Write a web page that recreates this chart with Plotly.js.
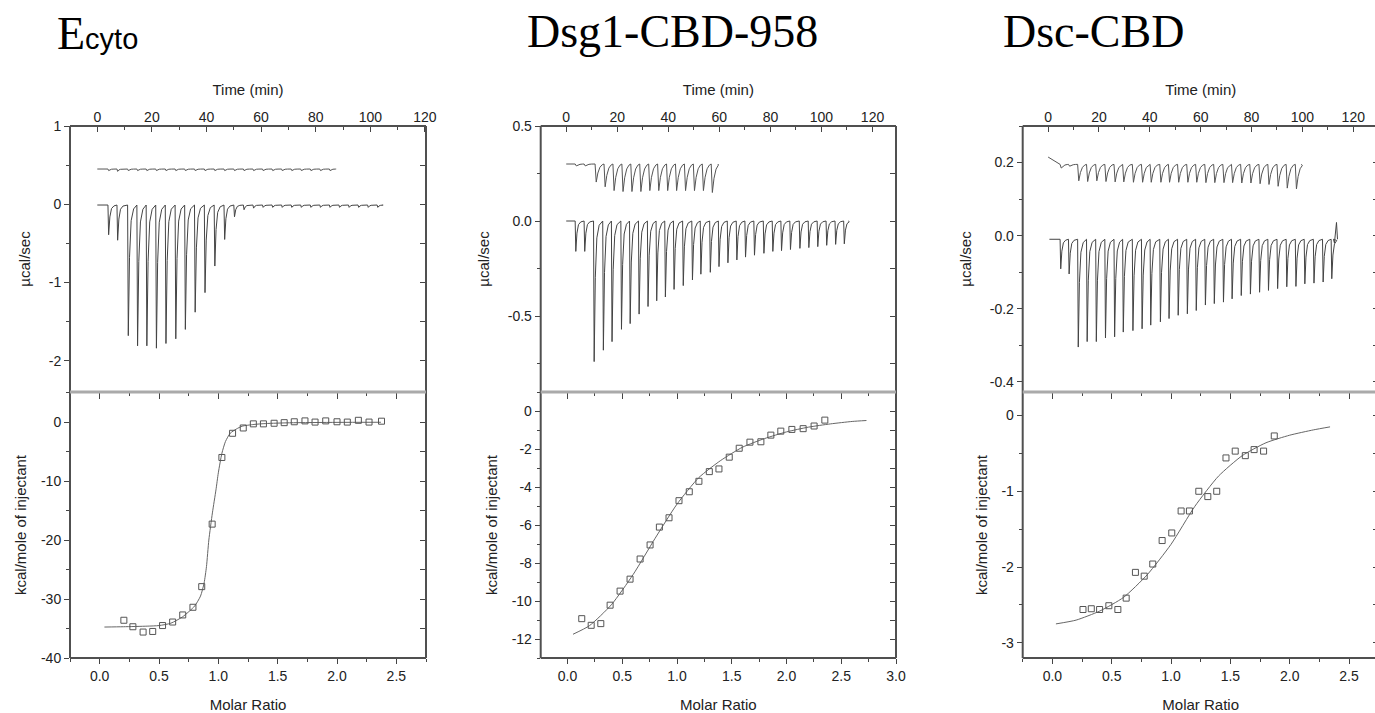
<!DOCTYPE html>
<html><head><meta charset="utf-8">
<script src="https://cdn.plot.ly/plotly-3.0.1.min.js"></script>
<style>html,body{margin:0;padding:0;overflow:hidden;background:#fff}#chart{width:1400px;height:713px}</style>
</head><body><div id="chart"></div>
<script>
// ---------- panel titles ----------
const panelTitles = ['E<span style="font-family:\'Liberation Sans\';font-size:29px">cyto</span>', 'Dsg1-CBD-958', 'Dsc-CBD'];

// ---------- raw thermograms (time in min, peak values in µcal/sec) ----------
const ecytoInjTimes = [3.9, 7.2, 11.1, 14.5, 17.9, 21.4, 24.9, 28.5, 32.0, 35.6, 39.2, 42.8, 46.4, 50.0, 53.5, 57.0, 60.5, 64.0, 67.5, 71.0, 74.5, 78.0, 81.5, 85.0, 88.5, 92.0, 95.5, 99.0, 102.5];
const ecytoPeaks = [-0.39, -0.46, -1.68, -1.81, -1.81, -1.84, -1.78, -1.72, -1.60, -1.38, -1.13, -0.79, -0.45, -0.16, -0.07, -0.05, -0.04, -0.04, -0.04, -0.04, -0.04, -0.04, -0.04, -0.04, -0.04, -0.04, -0.04, -0.04, -0.04];
const ecytoRefTimes = [3.9, 7.2, 11.1, 14.5, 17.9, 21.4, 24.9, 28.5, 32.0, 35.6, 39.2, 42.8, 46.4, 50.0, 53.5, 57.0, 60.5, 64.0, 67.5, 71.0, 74.5, 78.0, 81.5, 85.0];
const ecytoRefPeaks = [0.43, 0.42, 0.43, 0.43, 0.43, 0.43, 0.43, 0.43, 0.43, 0.43, 0.43, 0.43, 0.43, 0.43, 0.43, 0.43, 0.43, 0.43, 0.43, 0.43, 0.43, 0.43, 0.43, 0.43];

const dsgInjTimes = [3.5, 7.0, 10.7, 14.3, 17.7, 21.4, 24.8, 28.3, 31.8, 35.2, 38.6, 42.0, 45.6, 49.2, 52.5, 56.2, 59.6, 63.1, 66.6, 70.0, 73.5, 77.2, 80.7, 84.1, 87.6, 91.3, 94.8, 98.3, 101.8, 105.3, 108.7];
const dsgPeaks = [-0.16, -0.16, -0.74, -0.68, -0.635, -0.57, -0.54, -0.49, -0.45, -0.42, -0.40, -0.36, -0.34, -0.31, -0.28, -0.27, -0.24, -0.22, -0.205, -0.19, -0.18, -0.17, -0.16, -0.156, -0.15, -0.144, -0.14, -0.135, -0.128, -0.123, -0.12];
const dsgRefTimes = [3.5, 7.0, 11.3, 14.8, 18.3, 21.8, 25.3, 28.8, 32.3, 35.8, 39.3, 42.8, 46.3, 49.8, 53.3, 56.8];
const dsgRefPeaks = [0.29, 0.29, 0.205, 0.18, 0.16, 0.155, 0.155, 0.155, 0.16, 0.16, 0.16, 0.16, 0.16, 0.16, 0.16, 0.15];

const dscInjTimes = [4.7, 8.0, 11.6, 15.1, 18.7, 22.3, 25.9, 29.3, 33.1, 36.7, 40.1, 43.9, 47.3, 50.9, 54.5, 58.0, 61.6, 65.1, 68.7, 72.1, 75.7, 79.3, 82.9, 86.4, 90.0, 93.6, 97.2, 100.7, 104.3, 107.9, 111.3];
const dscPeaks = [-0.091, -0.105, -0.305, -0.29, -0.29, -0.28, -0.277, -0.264, -0.26, -0.255, -0.245, -0.236, -0.227, -0.218, -0.214, -0.205, -0.19, -0.186, -0.182, -0.173, -0.164, -0.16, -0.155, -0.15, -0.145, -0.14, -0.139, -0.132, -0.13, -0.127, -0.118];
const dscTailTimes = [112.6, 113.4, 113.8];
const dscTailValues = [-0.02, 0.036, -0.01];
const dscRefTimes = [4.7, 8.0, 11.6, 15.1, 18.7, 22.3, 25.9, 29.3, 33.1, 36.7, 40.1, 43.9, 47.3, 50.9, 54.5, 58.0, 61.6, 65.1, 68.7, 72.1, 75.7, 79.3, 82.9, 86.4, 90.0, 93.6, 97.2];
const dscRefPeaks = [0.185, 0.19, 0.15, 0.148, 0.15, 0.148, 0.147, 0.147, 0.146, 0.146, 0.146, 0.146, 0.146, 0.146, 0.146, 0.146, 0.145, 0.145, 0.145, 0.145, 0.144, 0.144, 0.142, 0.14, 0.135, 0.13, 0.128];
const dscRefStart = 0.215;

// ---------- integrated heats (molar ratio, kcal/mole of injectant) ----------
const ecytoRatio = [0.204, 0.28, 0.366, 0.447, 0.53, 0.615, 0.70, 0.786, 0.86, 0.948, 1.03, 1.12, 1.21, 1.295, 1.38, 1.47, 1.555, 1.64, 1.73, 1.815, 1.905, 2.0, 2.087, 2.18, 2.27, 2.375];
const ecytoHeat = [-33.6, -34.7, -35.6, -35.5, -34.5, -33.9, -32.7, -31.4, -27.9, -17.3, -6.0, -1.9, -1.0, -0.3, -0.3, -0.2, -0.1, 0.05, 0.2, 0.0, 0.2, 0.05, 0.0, 0.3, 0.0, 0.15];
const ecytoFitRatio = [0.04, 0.2, 0.4, 0.5, 0.6, 0.7, 0.8, 0.85, 0.88, 0.9, 0.92, 0.95, 0.98, 1.0, 1.03, 1.06, 1.1, 1.15, 1.2, 1.3, 1.4, 1.6, 2.0, 2.37];
const ecytoFitHeat = [-34.75, -34.7, -34.6, -34.5, -34.1, -33.0, -31.2, -29.5, -27.3, -24.5, -20.0, -15.4, -11.5, -8.6, -5.3, -3.3, -1.9, -1.2, -0.7, -0.4, -0.25, -0.12, -0.05, -0.03];

const dsgRatio = [0.13, 0.216, 0.304, 0.389, 0.48, 0.571, 0.663, 0.754, 0.839, 0.927, 1.018, 1.112, 1.2, 1.295, 1.383, 1.477, 1.568, 1.666, 1.766, 1.857, 1.948, 2.049, 2.152, 2.252, 2.35];
const dsgHeat = [-10.93, -11.28, -11.19, -10.22, -9.48, -8.85, -7.79, -7.05, -6.11, -5.62, -4.72, -4.25, -3.7, -3.19, -3.05, -2.43, -1.96, -1.64, -1.62, -1.27, -1.06, -0.97, -0.93, -0.79, -0.48];
const dsgFitRatio = [0.05, 0.2, 0.4, 0.6, 0.8, 1.0, 1.2, 1.4, 1.6, 1.8, 2.0, 2.2, 2.4, 2.6, 2.73];
const dsgFitHeat = [-11.75, -11.3, -10.2, -8.6, -6.7, -4.9, -3.5, -2.6, -1.9, -1.45, -1.1, -0.85, -0.68, -0.55, -0.5];

const dscRatio = [0.258, 0.328, 0.398, 0.476, 0.552, 0.622, 0.70, 0.774, 0.846, 0.925, 1.006, 1.085, 1.155, 1.234, 1.31, 1.385, 1.463, 1.541, 1.626, 1.70, 1.78, 1.87];
const dscHeat = [-2.56, -2.55, -2.56, -2.51, -2.56, -2.41, -2.07, -2.12, -1.96, -1.65, -1.55, -1.26, -1.26, -1.0, -1.07, -1.0, -0.56, -0.47, -0.53, -0.45, -0.47, -0.27];
const dscFitRatio = [0.03, 0.2, 0.4, 0.6, 0.8, 1.0, 1.2, 1.4, 1.6, 1.8, 2.0, 2.2, 2.34];
const dscFitHeat = [-2.75, -2.7, -2.58, -2.4, -2.1, -1.7, -1.2, -0.8, -0.53, -0.36, -0.26, -0.19, -0.15];

// ---------- tick labels ----------
const timeTicks = [0, 20, 40, 60, 80, 100, 120];
const ratioTicks = [0, 0.5, 1, 1.5, 2, 2.5, 3];
const ratioLabels = ['0.0', '0.5', '1.0', '1.5', '2.0', '2.5', '3.0'];
const ecytoRawTicks = [1, 0, -1, -2];
const ecytoRawLabels = ['1', '0', '-1', '-2'];
const dsgRawTicks = [0.5, 0, -0.5];
const dsgRawLabels = ['0.5', '0.0', '-0.5'];
const dscRawTicks = [0.2, 0, -0.2, -0.4];
const dscRawLabels = ['0.2', '0.0', '-0.2', '-0.4'];
const ecytoHeatTicks = [0, -10, -20, -30, -40];
const ecytoHeatLabels = ['0', '-10', '-20', '-30', '-40'];
const dsgHeatTicks = [0, -2, -4, -6, -8, -10, -12];
const dsgHeatLabels = ['0', '-2', '-4', '-6', '-8', '-10', '-12'];
const dscHeatTicks = [0, -1, -2, -3];
const dscHeatLabels = ['0', '-1', '-2', '-3'];

// ---------- build a thermogram line from injection times and peak values ----------
function thermo(times, peaks, base, tStart, tEnd, slow, startVal) {
  const offs = slow ? [0.45, 1.1, 1.9, 2.8] : [0.25, 0.7, 1.3, 2.2];
  const fr = slow ? [1, 0.5, 0.18, 0.04] : [1, 0.4, 0.12, 0.03];
  const x = [tStart], y = [startVal === undefined ? base : startVal];
  times.forEach((t, i) => {
    x.push(t); y.push(base);
    for (let k = 0; k < offs.length; k++) { x.push(t + offs[k]); y.push(base + (peaks[i] - base) * fr[k]); }
  });
  x.push(tEnd); y.push(base);
  return {x, y};
}

const dscMain = thermo(dscInjTimes, dscPeaks, -0.01, 0.5, 112.2, false);
dscMain.x.push(...dscTailTimes); dscMain.y.push(...dscTailValues);

const panels = [
  {main: thermo(ecytoInjTimes, ecytoPeaks, -0.01, 0, 104.5, false), ref: thermo(ecytoRefTimes, ecytoRefPeaks, 0.45, 0, 87.5, false),
   ratio: ecytoRatio, heat: ecytoHeat, fitR: ecytoFitRatio, fitH: ecytoFitHeat,
   timeRange: [-10, 120.4], rawRange: [-2.4, 1.0], rawTicks: ecytoRawTicks, rawLabels: ecytoRawLabels, rawMinor: 0.5,
   ratioRange: [-0.25, 2.75], heatRange: [-40, 5.1], heatTicks: ecytoHeatTicks, heatLabels: ecytoHeatLabels, heatMinor: 5,
   dom: [70, 426]},
  {main: thermo(dsgInjTimes, dsgPeaks, 0.0, 0, 110.5, false), ref: thermo(dsgRefTimes, dsgRefPeaks, 0.30, 0, 59.5, true),
   ratio: dsgRatio, heat: dsgHeat, fitR: dsgFitRatio, fitH: dsgFitHeat,
   timeRange: [-10, 129.2], rawRange: [-0.9, 0.5], rawTicks: dsgRawTicks, rawLabels: dsgRawLabels, rawMinor: 0.25,
   ratioRange: [-0.245, 3.0], heatRange: [-13, 1.0], heatTicks: dsgHeatTicks, heatLabels: dsgHeatLabels, heatMinor: 1,
   dom: [540.7, 896]},
  {main: dscMain, ref: thermo(dscRefTimes, dscRefPeaks, 0.195, 0, 99.5, true, dscRefStart),
   ratio: dscRatio, heat: dscHeat, fitR: dscFitRatio, fitH: dscFitHeat,
   timeRange: [-10, 130], rawRange: [-0.428, 0.3], rawTicks: dscRawTicks, rawLabels: dscRawLabels, rawMinor: 0.1,
   ratioRange: [-0.25, 2.75], heatRange: [-3.2, 0.31], heatTicks: dscHeatTicks, heatLabels: dscHeatLabels, heatMinor: 0.5,
   dom: [1022.7, 1378.7]}
];

const W = 1400, H = 713;
const TOP = 126, MID = 392, BOT = 658;
const yTopDom = [1 - MID / H, 1 - TOP / H];
const yBotDom = [1 - BOT / H, 1 - MID / H];
const AX = '#444', FRAME = '#505050', TXT = '#222';
const tickFont = {size: 14, color: TXT, family: 'Liberation Sans, Arial, sans-serif'};
const titleFont = {size: 15, color: TXT, family: 'Liberation Sans, Arial, sans-serif'};

const data = [];
const layout = {
  width: W, height: H, margin: {l: 0, r: 0, t: 0, b: 0},
  paper_bgcolor: '#fff', plot_bgcolor: 'rgba(0,0,0,0)', showlegend: false, hovermode: false,
  font: {family: 'Liberation Sans, Arial, sans-serif', color: TXT},
  annotations: [], shapes: []
};
const base = {showgrid: false, zeroline: false, showline: false, tickcolor: AX, tickwidth: 1, tickfont: tickFont};

panels.forEach((p, i) => {
  const xT = 3 * i + 1, xB = 3 * i + 2, xBT = 3 * i + 3;
  const yT = 4 * i + 1, yTR = 4 * i + 2, yB = 4 * i + 3, yBR = 4 * i + 4;
  const xn = n => 'xaxis' + (n === 1 ? '' : n), yn = n => 'yaxis' + (n === 1 ? '' : n);
  const xr = n => 'x' + (n === 1 ? '' : n), yr = n => 'y' + (n === 1 ? '' : n);
  const dom = [p.dom[0] / W, p.dom[1] / W];

  // top subplot
  layout[xn(xT)] = Object.assign({}, base, {domain: dom, anchor: yr(yT), side: 'top', range: p.timeRange,
    tickmode: 'array', tickvals: timeTicks, ticktext: timeTicks.map(String), ticks: 'inside', ticklen: 6,
    minor: {tickmode: 'linear', tick0: 0, dtick: 10, ticks: 'inside', ticklen: 4, tickcolor: AX},
    title: {text: 'Time (min)', font: titleFont, standoff: 9}});
  layout[yn(yT)] = Object.assign({}, base, {domain: yTopDom, anchor: xr(xT), side: 'left', range: p.rawRange,
    tickmode: 'array', tickvals: p.rawTicks, ticktext: p.rawLabels, ticks: 'outside', ticklen: 5,
    minor: {tickmode: 'linear', tick0: 0, dtick: p.rawMinor, ticks: 'outside', ticklen: 3, tickcolor: AX},
    title: {text: 'µcal/sec', font: titleFont, standoff: 14}});
  layout[yn(yTR)] = Object.assign({}, base, {overlaying: yr(yT), anchor: xr(xT), side: 'right', range: p.rawRange,
    tickmode: 'linear', tick0: 0, dtick: p.rawMinor, ticks: 'inside', ticklen: 6, showticklabels: false});

  // bottom subplot
  layout[xn(xB)] = Object.assign({}, base, {domain: dom, anchor: yr(yB), side: 'bottom', range: p.ratioRange,
    tickmode: 'array', tickvals: ratioTicks, ticktext: ratioLabels, ticks: 'outside', ticklen: 5,
    minor: {tickmode: 'linear', tick0: 0, dtick: 0.25, ticks: 'outside', ticklen: 3, tickcolor: AX},
    title: {text: 'Molar Ratio', font: titleFont, standoff: 16}});
  layout[xn(xBT)] = Object.assign({}, base, {overlaying: xr(xB), anchor: yr(yB), side: 'top', range: p.ratioRange,
    tickmode: 'linear', tick0: 0, dtick: 0.5, ticks: 'inside', ticklen: 7, showticklabels: false,
    minor: {tickmode: 'linear', tick0: 0, dtick: 0.25, ticks: 'inside', ticklen: 4, tickcolor: AX}});
  layout[yn(yB)] = Object.assign({}, base, {domain: yBotDom, anchor: xr(xB), side: 'left', range: p.heatRange,
    tickmode: 'array', tickvals: p.heatTicks, ticktext: p.heatLabels, ticks: 'outside', ticklen: 5,
    minor: {tickmode: 'linear', tick0: 0, dtick: p.heatMinor, ticks: 'outside', ticklen: 3, tickcolor: AX},
    title: {text: 'kcal/mole of injectant', font: titleFont, standoff: 10}});
  layout[yn(yBR)] = Object.assign({}, base, {overlaying: yr(yB), anchor: xr(xB), side: 'right', range: p.heatRange,
    tickmode: 'linear', tick0: 0, dtick: p.heatMinor, ticks: 'inside', ticklen: 6, showticklabels: false});

  // frame lines (paper coordinates)
  const L = dom[0], R = dom[1];
  const yt = 1 - TOP / H, ym = 1 - MID / H, yb = 1 - BOT / H;
  const ln = (x0, y0, x1, y1, c, w) => layout.shapes.push({type: 'line', xref: 'paper', yref: 'paper', x0: x0, y0: y0, x1: x1, y1: y1, line: {color: c, width: w}, layer: 'above'});
  ln(L, yt, R, yt, FRAME, 2);
  ln(L, yb, R, yb, FRAME, 2);
  ln(L, yt, L, yb, FRAME, 2);
  ln(R, yt, R, yb, FRAME, 2);
  ln(L, ym, R, ym, '#aaa', 3);

  // traces
  data.push({type: 'scatter', mode: 'lines', x: p.ref.x, y: p.ref.y, xaxis: xr(xT), yaxis: yr(yT),
    line: {color: '#555', width: 1}, hoverinfo: 'skip'});
  data.push({type: 'scatter', mode: 'lines', x: p.main.x, y: p.main.y, xaxis: xr(xT), yaxis: yr(yT),
    line: {color: '#444', width: 1}, hoverinfo: 'skip'});
  data.push({type: 'scatter', mode: 'lines', x: [], y: [], xaxis: xr(xT), yaxis: yr(yTR), hoverinfo: 'skip'});
  data.push({type: 'scatter', mode: 'lines', x: p.fitR, y: p.fitH, xaxis: xr(xB), yaxis: yr(yB),
    line: {color: '#666', width: 1, shape: 'spline', smoothing: 0.6}, hoverinfo: 'skip'});
  data.push({type: 'scatter', mode: 'markers', x: p.ratio, y: p.heat, xaxis: xr(xB), yaxis: yr(yB),
    marker: {symbol: 'square-open', size: 6, color: '#555', line: {width: 1, color: '#555'}}, hoverinfo: 'skip'});
  data.push({type: 'scatter', mode: 'lines', x: [], y: [], xaxis: xr(xBT), yaxis: yr(yB), hoverinfo: 'skip'});
  data.push({type: 'scatter', mode: 'lines', x: [], y: [], xaxis: xr(xB), yaxis: yr(yBR), hoverinfo: 'skip'});
});

const titleX = [55, 525, 1001];
const titleBottom = [61, 59, 59];
panelTitles.forEach((t, i) => {
  layout.annotations.push({text: t, xref: 'paper', yref: 'paper', x: titleX[i] / W, y: 1 - titleBottom[i] / H,
    xanchor: 'left', yanchor: 'bottom', showarrow: false,
    font: {family: 'Liberation Serif, Times New Roman, serif', size: 46, color: '#000'}});
});

Plotly.newPlot('chart', data, layout, {staticPlot: true, displayModeBar: false});
</script></body></html>
